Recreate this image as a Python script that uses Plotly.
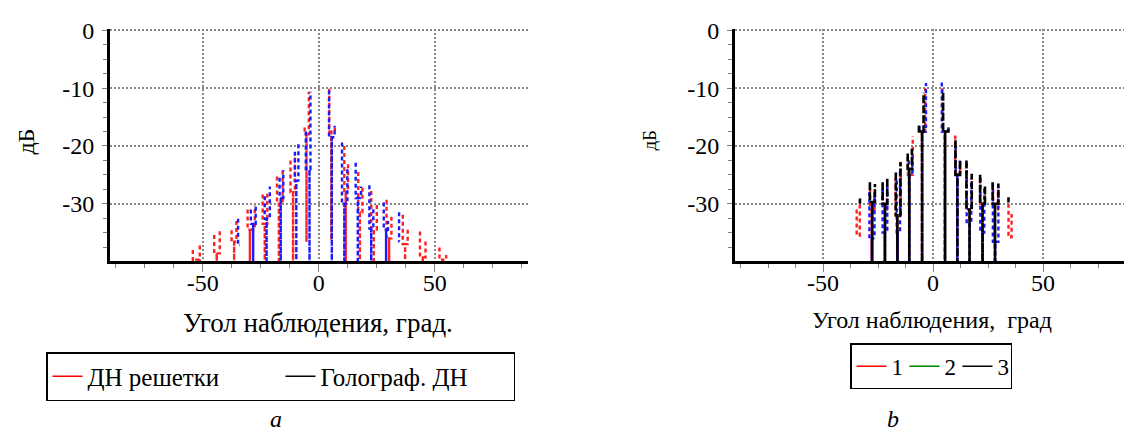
import plotly.graph_objects as go
import numpy as np

# ---------------- data ----------------
# Every lobe of a pattern is described by the values:
# (left prong angle, left prong peak dB, junction dB, stem angle, stem bottom dB,
#  right prong angle, right prong peak dB)

# panel a: "ДН решетки" (red, dashed) lobes
A_RED_LOBES = [
    (-54.3, -38.0, -39.7, -52.8, -41.0, -51.3, -37.0),
    (-45.1, -35.4, -38.6, -44.0, -41.0, -42.7, -34.3),
    (-37.6, -34.6, -36.6, -36.5, -41.0, -35.5, -32.9),
    (-30.7, -31.0, -34.5, -29.7, -41.0, -27.6, -30.3),
    (-24.2, -28.4, -33.5, -23.3, -41.0, -22.2, -28.0),
    (-18.0, -25.3, -30.0, -17.2, -41.0, -15.6, -24.1),
    (-12.2, -22.5, -28.0, -11.1, -41.0, -10.3, -21.5),
    (-6.1, -16.8, -18.0, -5.3, -36.6, -4.3, -10.6),
    (4.5, -10.1, -17.5, 5.4, -36.3, 6.9, -16.8),
    (11.0, -20.0, -28.0, 11.6, -41.0, 12.6, -22.8),
    (17.0, -24.5, -31.5, 17.7, -41.0, 18.8, -26.8),
    (22.6, -27.8, -34.5, 23.7, -41.0, 25.0, -29.8),
    (29.2, -29.3, -36.0, 30.3, -41.0, 31.3, -32.0),
    (36.2, -31.9, -37.0, 37.2, -41.0, 38.3, -34.0),
    (43.6, -34.8, -39.3, 44.8, -41.0, 46.0, -36.3),
    (52.0, -37.6, -39.7, 53.2, -41.0, 54.9, -38.9),
]

# panel a: holographic pattern (blue, dashed) lobes
A_BLUE_LOBES = [
    (-34.8, -32.6, -37.2, -34.0, -37.2, -34.0, -37.2),
    (-29.3, -31.0, -33.5, -28.3, -41.0, -27.2, -30.2),
    (-23.3, -28.7, -32.6, -22.5, -41.0, -21.1, -27.0),
    (-16.9, -25.5, -29.0, -16.4, -41.0, -15.3, -24.2),
    (-10.3, -21.0, -26.0, -9.7, -41.0, -8.8, -19.7),
    (-5.6, -17.5, -24.0, -4.0, -41.0, -3.6, -10.6),
    (4.4, -10.4, -18.5, 5.6, -41.0, 6.8, -16.5),
    (10.0, -19.4, -30.0, 11.0, -41.0, 12.3, -23.6),
    (15.9, -22.9, -29.0, 16.8, -41.0, 18.2, -27.0),
    (21.8, -26.8, -34.3, 22.6, -41.0, 23.5, -30.5),
    (28.0, -29.8, -34.5, 29.0, -41.0, 29.8, -33.0),
    (34.6, -31.5, -36.5, 34.8, -36.5, 34.8, -36.5),
]

# panel b: curve 1 (red, dashed)
B_RED_LOBES = [
    (-34.7, -31.0, -35.5, -34.0, -35.5, -33.3, -29.5),
    (-28.6, -27.3, -31.0, -27.9, -41.0, -26.6, -27.5),
    (-22.9, -27.5, -31.0, -21.9, -41.0, -20.9, -26.0),
    (-17.0, -25.5, -32.0, -16.3, -41.0, -14.7, -22.5),
    (-11.4, -22.0, -25.0, -10.8, -41.0, -9.2, -18.3),
    (-6.3, -16.8, -17.5, -5.0, -41.0, -3.6, -10.0),
    (4.3, -10.0, -17.5, 5.4, -41.0, 7.0, -16.8),
    (10.1, -18.2, -25.0, 11.0, -41.0, 12.3, -22.5),
    (15.3, -23.0, -31.0, 16.6, -41.0, 17.5, -25.5),
    (21.4, -25.8, -30.0, 22.4, -41.0, 23.5, -28.5),
    (27.3, -27.5, -31.0, 28.0, -41.0, 29.5, -28.0),
    (34.3, -30.0, -35.8, 35.2, -35.8, 35.7, -31.8),
]

# panel b: curve 2 (drawn blue)
B_BLUE_LOBES = [
    (-28.9, -28.0, -36.0, -27.8, -41.0, -26.6, -28.0),
    (-22.9, -27.5, -35.0, -21.9, -41.0, -20.8, -27.0),
    (-16.5, -26.0, -35.0, -16.1, -41.0, -15.0, -24.0),
    (-11.0, -22.5, -25.0, -10.7, -41.0, -9.4, -21.5),
    (-6.2, -16.5, -17.5, -4.9, -41.0, -3.2, -9.1),
    (4.0, -9.0, -17.5, 5.4, -41.0, 7.0, -16.8),
    (10.3, -20.0, -25.0, 11.0, -41.0, 12.2, -22.5),
    (15.3, -23.0, -33.5, 16.7, -41.0, 17.4, -26.0),
    (21.5, -25.5, -35.0, 22.6, -41.0, 23.3, -27.0),
    (27.2, -26.5, -36.6, 28.3, -41.0, 29.7, -27.0),
]

# panel b: curve 3 (black)
B_BLACK_LOBES = [
    (-33.2, -29.1, -30.0, -33.2, -30.0, -33.2, -30.0),
    (-28.7, -26.3, -29.7, -27.6, -41.0, -26.4, -26.6),
    (-22.9, -26.3, -30.0, -21.8, -41.0, -20.8, -25.5),
    (-16.9, -24.6, -32.0, -16.2, -41.0, -14.8, -22.8),
    (-11.5, -21.3, -24.0, -10.8, -41.0, -9.6, -20.5),
    (-6.4, -16.5, -17.5, -5.0, -41.0, -4.3, -10.8),
    (4.6, -10.8, -17.5, 5.5, -41.0, 7.0, -16.8),
    (10.2, -19.0, -25.0, 11.1, -41.0, 12.3, -22.3),
    (15.2, -22.5, -31.0, 16.6, -41.0, 17.6, -24.8),
    (21.4, -25.0, -30.0, 22.5, -41.0, 23.6, -26.8),
    (27.1, -26.3, -30.0, 28.2, -41.0, 29.7, -26.5),
    (34.3, -28.9, -29.8, 34.3, -29.8, 34.3, -29.8),
]

X_TICKS = [-50, 0, 50]
X_TICK_TEXT = ["-50", "0", "50"]
Y_TICKS = [0, -10, -20, -30]
Y_TICK_TEXT = ["0", "-10", "-20", "-30"]
X_MINOR = [-87.5, -75, -62.5, -37.5, -25, -12.5, 12.5, 25, 37.5, 62.5, 75, 87.5]
Y_MINOR = [-2.5, -5, -7.5, -12.5, -15, -17.5, -22.5, -25, -27.5, -32.5, -35, -37.5]

LEGEND_A = [("ДН решетки", "red"), ("Голограф. ДН", "black")]
LEGEND_B = [("1", "red"), ("2", "green"), ("3", "black")]


def lobe_path(lobes):
    xs, ys = [], []
    for xl, pl, j, xst, bot, xr, pr in lobes:
        xs += [xl, xl, xst, xst, xst, xr, xr, None]
        ys += [pl, j, j, bot, j, j, pr, None]
    return xs, ys


W, H = 1124, 432
FONT = "'Liberation Serif', 'Times New Roman', Times, serif"
fig = go.Figure()


def add_series(lobes, color, xa, ya, width=2.4, dash="4px,3px"):
    xs, ys = lobe_path(lobes)
    fig.add_trace(go.Scatter(x=xs, y=ys, mode="lines", xaxis=xa, yaxis=ya,
                             line=dict(color=color, width=width, dash=dash),
                             showlegend=False, hoverinfo="skip", connectgaps=False))


add_series(A_RED_LOBES, "#ff2020", "x", "y")
add_series(A_BLUE_LOBES, "#1a1aff", "x", "y")
add_series(B_RED_LOBES, "#ff2020", "x2", "y2")
add_series(B_BLUE_LOBES, "#1a1aff", "x2", "y2")
add_series(B_BLACK_LOBES, "black", "x2", "y2", width=2.6, dash="8px,2px")

for name, col in LEGEND_A:
    fig.add_trace(go.Scatter(x=[None], y=[None], mode="lines", name=name, xaxis="x", yaxis="y",
                             line=dict(color=col, width=1.5), legend="legend"))
for name, col in LEGEND_B:
    fig.add_trace(go.Scatter(x=[None], y=[None], mode="lines", name=name, xaxis="x2", yaxis="y2",
                             line=dict(color=col, width=1.5), legend="legend2"))

tickfont = dict(family=FONT, size=24, color="black")


def xaxis(domain, rng, anchor):
    return dict(domain=domain, range=rng, anchor=anchor, showline=True, linewidth=3,
                linecolor="black", ticks="outside", ticklen=8, tickwidth=1.2,
                tickcolor="#808080", tickmode="array", tickvals=X_TICKS, ticktext=X_TICK_TEXT,
                showgrid=True, gridcolor="#8a8a8a", griddash="2px,2px", gridwidth=1.5,
                zeroline=False, tickfont=tickfont, ticklabelstandoff=-10,
                minor=dict(tickmode="array", tickvals=X_MINOR, ticks="outside", ticklen=4,
                           tickwidth=1.2, tickcolor="#808080", showgrid=False))


def yaxis(domain, anchor):
    return dict(domain=domain, range=[-40, 0.2], anchor=anchor, showline=True, linewidth=3,
                linecolor="black", ticks="outside", ticklen=5, tickwidth=1.2,
                tickcolor="#808080", tickmode="array", tickvals=Y_TICKS, ticktext=Y_TICK_TEXT,
                showgrid=True, gridcolor="#8a8a8a", griddash="2px,2px", gridwidth=1.5,
                zeroline=False, tickfont=tickfont, ticklabelstandoff=3,
                minor=dict(tickmode="array", tickvals=Y_MINOR, ticks="outside", ticklen=4,
                           tickwidth=1.2, tickcolor="#808080", showgrid=False))


def note(text, x, y, size, angle=0):
    return dict(text=text, x=x / W, y=1 - y / H, xref="paper", yref="paper", showarrow=False,
                xanchor="center", yanchor="middle", textangle=angle,
                font=dict(family=FONT, size=size, color="black"))


ydom = [1 - 257 / H, 1 - 18.8 / H]
fig.update_layout(
    width=W, height=H, margin=dict(l=0, r=0, t=0, b=0),
    paper_bgcolor="white", plot_bgcolor="white",
    font=dict(family=FONT, color="black"),
    xaxis=xaxis([110 / W, 527.6 / W], [-90, 90], "y"),
    yaxis=yaxis(ydom, "x"),
    xaxis2=xaxis([735 / W, 1.0], [-90, 86.8], "y2"),
    yaxis2=yaxis(ydom, "x2"),
    legend=dict(orientation="h", x=46 / W, y=1 - 350 / H, xanchor="left", yanchor="top",
                bordercolor="black", borderwidth=1.5, bgcolor="white",
                font=dict(family=FONT, size=25, color="black"), entrywidth=188,
                entrywidthmode="pixels"),
    legend2=dict(orientation="h", x=850 / W, y=1 - 341 / H, xanchor="left", yanchor="top",
                 bordercolor="black", borderwidth=1.5, bgcolor="white",
                 font=dict(family=FONT, size=23, color="black"), entrywidth=8,
                 entrywidthmode="pixels"),
    annotations=[
        note("дБ", 26, 134, 24, -90),
        note("дБ", 650, 133, 19, -90),
        note("Угол наблюдения, град.", 318, 320, 27),
        note("Угол наблюдения,\u00a0 град", 932, 317, 24),
        note("<i>a</i>", 276, 419, 24),
        note("<i>b</i>", 893, 419, 24),
    ],
)

fig.write_html("out.html")
